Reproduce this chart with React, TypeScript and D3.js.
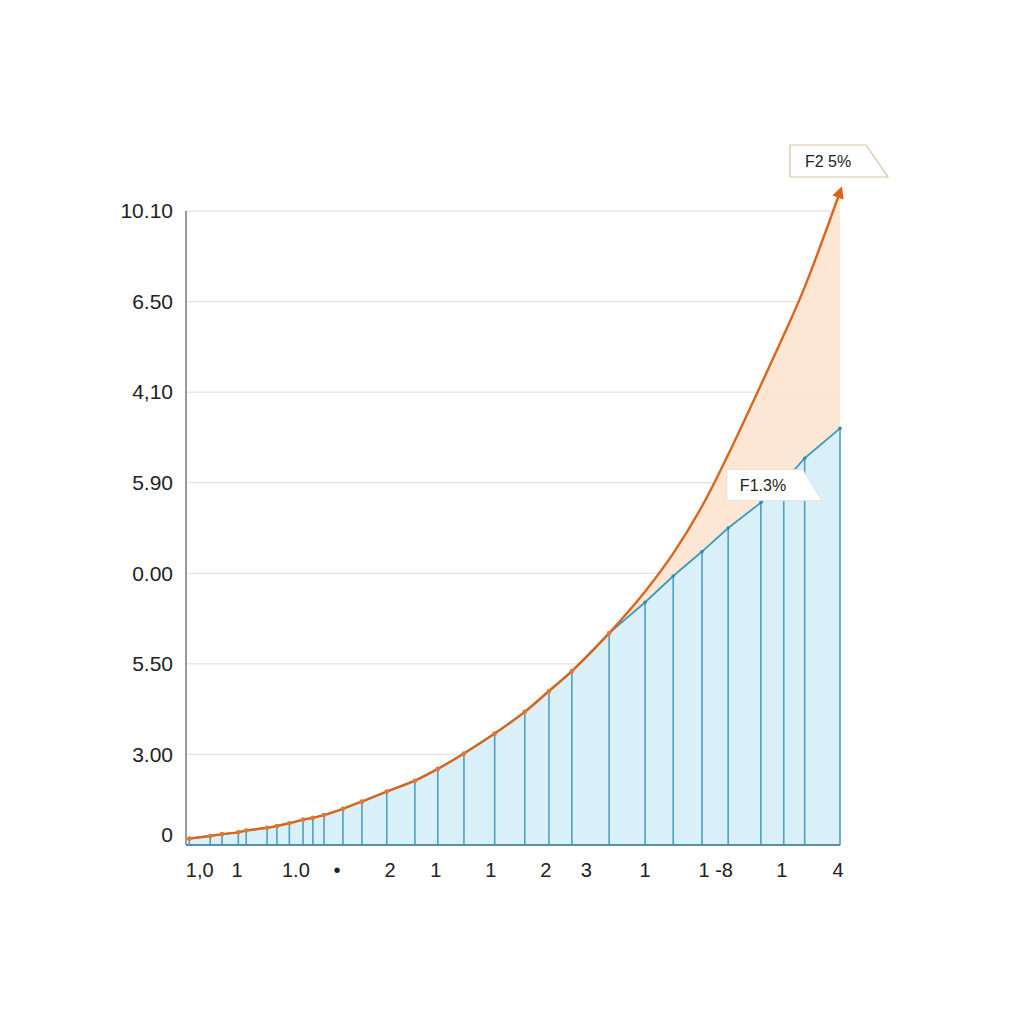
import * as d3 from "d3";

// x positions (0..100 across the plot) and values for the two series
const xValues = [0.5, 3.7, 5.5, 8, 9.2, 12.4, 13.9, 15.8, 17.9, 19.4, 21.1, 24, 26.9, 30.7, 35, 38.5, 42.5, 47.2, 51.8, 55.5, 59, 64.7, 70.2, 74.5, 78.9, 82.9, 87.9, 91.4, 94.6, 100];
const blueValues = [0.07, 0.1, 0.12, 0.14, 0.16, 0.19, 0.21, 0.24, 0.28, 0.3, 0.33, 0.4, 0.48, 0.59, 0.71, 0.84, 1.01, 1.23, 1.47, 1.7, 1.92, 2.34, 2.68, 2.97, 3.24, 3.5, 3.78, 4.01, 4.27, 4.6];
const orangeValues = [0.07, 0.1, 0.12, 0.14, 0.16, 0.19, 0.21, 0.24, 0.28, 0.3, 0.33, 0.4, 0.48, 0.59, 0.71, 0.84, 1.01, 1.23, 1.47, 1.7, 1.92, 2.34, 2.8, 3.22, 3.74, 4.31, 5.08, 5.63, 6.16, 7.21];

const yTickLabels = ["0", "3.00", "5.50", "0.00", "5.90", "4,10", "6.50", "10.10"];
const xTickPos = [2.1, 7.8, 16.8, 23.1, 31.2, 38.2, 46.6, 55.0, 61.2, 70.2, 81.0, 91.1, 99.7];
const xTickLabels = ["1,0", "1", "1.0", "•", "2", "1", "1", "2", "3", "1", "1 -8", "1", "4"];

const splitIndex = 21; // where the orange curve leaves the blue one

const W = 1024;
const H = 1024;
const left = 186, right = 840, top = 211, bottom = 845;

export default function App() {
  const x = d3.scaleLinear().domain([0, 100]).range([left, right]);
  const y = d3.scaleLinear().domain([0, 7]).range([bottom, top]);

  const pts = xValues.map((xv, i) => ({ x: xv, b: blueValues[i], o: orangeValues[i] }));

  const blueArea = d3.area<any>()
    .x(d => x(d.x))
    .y0(y(0))
    .y1(d => y(d.b))(pts);
  const blueLine = d3.line<any>().x(d => x(d.x)).y(d => y(d.b))(pts);
  const orangeLine = d3.line<any>()
    .x(d => x(d.x))
    .y(d => y(d.o))
    .curve(d3.curveCatmullRom.alpha(0.5))(pts);
  const gap = pts.slice(splitIndex);
  const peachArea = d3.area<any>()
    .x(d => x(d.x))
    .y0(d => y(d.b))
    .y1(d => y(d.o))
    .curve(d3.curveCatmullRom.alpha(0.5))(gap);

  const font = "'Liberation Sans', Arial, sans-serif";

  // callout anchors
  const last = pts[pts.length - 1];
  const c1x = x(last.x) - 50, c1y = y(last.o) - 31;
  const c2x = x(87.9) - 34, c2y = y(blueValues[26]) - 17;

  return (
    <svg width={W} height={H} style={{ position: "absolute", left: 0, top: 0, background: "#fff" }}>
      <defs>
        <marker id="arrow" viewBox="0 0 10 10" refX="5" refY="5" markerWidth="5" markerHeight="5" orient="auto">
          <path d="M0,0 L10,5 L0,10 z" fill="#d9661f" />
        </marker>
      </defs>

      {/* grid */}
      {yTickLabels.map((lab, i) => (
        <g key={i}>
          {i > 0 && <line x1={left} x2={right} y1={y(i)} y2={y(i)} stroke="#dcdcdc" strokeWidth={1} />}
          <text x={173} y={i === 0 ? y(i) - 10 : y(i)} dy="0.35em" textAnchor="end" fontFamily={font} fontSize={21} fill="#222">{lab}</text>
        </g>
      ))}

      <path d={blueArea ?? ""} fill="#d9f0f8" />
      <path d={peachArea ?? ""} fill="#fde4cf" opacity={0.9} />

      {pts.map((d, i) => (
        <line key={i} x1={x(d.x)} x2={x(d.x)} y1={y(0)} y2={y(d.b)} stroke="#4f9fbf" strokeWidth={1.6} />
      ))}

      <path d={blueLine ?? ""} fill="none" stroke="#3d9bbb" strokeWidth={1.8} />
      {pts.map((d, i) => (
        <circle key={i} cx={x(d.x)} cy={y(d.b)} r={1.8} fill="#2f8fb0" />
      ))}

      <path d={orangeLine ?? ""} fill="none" stroke="#d9661f" strokeWidth={2.4} markerEnd="url(#arrow)" />
      {pts.slice(0, splitIndex + 1).map((d, i) => (
        <circle key={i} cx={x(d.x)} cy={y(d.o)} r={2.3} fill="#e07a30" />
      ))}

      {/* axes */}
      <line x1={left} x2={left} y1={top} y2={bottom} stroke="#7a7a7a" strokeWidth={1.5} />
      <line x1={left} x2={right} y1={bottom} y2={bottom} stroke="#5a8fa8" strokeWidth={2} />

      {xTickPos.map((p, i) => (
        <text key={i} x={x(p)} y={870} dy="0.35em" textAnchor="middle" fontFamily={font} fontSize={20} fill="#222">{xTickLabels[i]}</text>
      ))}

      {/* callouts */}
      <path d={`M${c1x},${c1y - 16} L${c1x + 76},${c1y - 16} L${c1x + 98},${c1y + 16} L${c1x},${c1y + 16} Z`} fill="#fff" stroke="#d8c3a0" strokeWidth={1.2} />
      <text x={c1x + 15} y={c1y} dy="0.35em" fontFamily={font} fontSize={16} fill="#222">F2 5%</text>

      <path d={`M${c2x},${c2y - 16} L${c2x + 76},${c2y - 16} L${c2x + 95},${c2y + 15} L${c2x},${c2y + 15} Z`} fill="#fff" stroke="#e2e2e2" strokeWidth={1} />
      <text x={c2x + 13} y={c2y} dy="0.35em" fontFamily={font} fontSize={16} fill="#222">F1.3%</text>
    </svg>
  );
}
